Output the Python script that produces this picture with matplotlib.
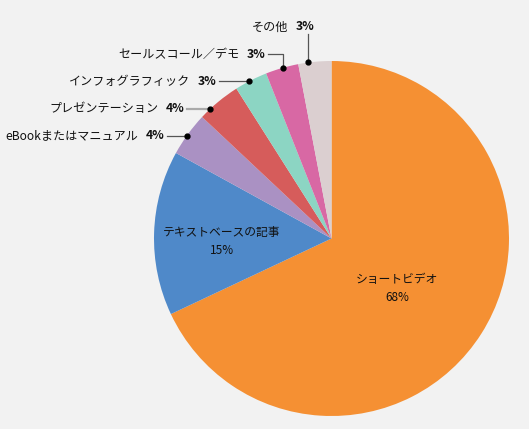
import matplotlib
matplotlib.use('Agg')
import matplotlib.pyplot as plt
import numpy as np

plt.rcParams['font.family'] = ['Noto Sans CJK JP', 'DejaVu Sans']

categories = ['ショートビデオ', 'テキストベースの記事', 'eBookまたはマニュアル',
              'プレゼンテーション', 'インフォグラフィック', 'セールスコール／デモ', 'その他']
values = [68, 15, 4, 4, 3, 3, 3]
pct_labels = ['68%', '15%', '4%', '4%', '3%', '3%', '3%']
colors = ['#F59033', '#4F89C9', '#AA91C3', '#D65C5B', '#8CD5C3', '#D868A4', '#DBCFD0']

W, H = 529, 429
BG = '#F2F2F2'
FS = 8.7
FS_IN = 8.5
TXT = '#111111'
fig = plt.figure(figsize=(W / 100, H / 100), dpi=100, facecolor=BG)
ax = fig.add_axes([0, 0, 1, 1])
cx, cy, R = 331.5, H - 238.5, 177.5
ax.pie(values, colors=colors, startangle=90, counterclock=False, radius=R,
       center=(cx, cy), wedgeprops=dict(linewidth=0))
ax.set_xlim(0, W)
ax.set_ylim(0, H)
ax.set_aspect('equal')
ax.axis('off')

total = float(sum(values))
cum = np.concatenate([[0], np.cumsum(values)[:-1]])


def point(i, frac, rr=R):
    a = np.deg2rad(90 - 360 * (cum[i] + frac * values[i]) / total)
    return cx + rr * np.cos(a), cy + rr * np.sin(a)


# inside labels (pixel positions from top)
inside_pos = {0: (397, 288.5), 1: (222, 241.5)}
for i, (px, py) in inside_pos.items():
    ax.text(px, H - py, categories[i] + '\n' + pct_labels[i], ha='center', va='center',
            fontsize=FS_IN, color=TXT, linespacing=1.5)

fig.canvas.draw()
renderer = fig.canvas.get_renderer()
GAP = 7


def two_part_label(x_right, y, name, pct):
    t = ax.text(x_right, y, pct, ha='right', va='center', fontsize=FS,
                color=TXT, fontweight='bold')
    w = t.get_window_extent(renderer).width
    ax.text(x_right - w - GAP, y, name, ha='right', va='center', fontsize=FS,
            color=TXT)


# outside labels
# (slice index, anchor fraction within slice, kind, text x (right end or center), text y from top)
outside = [
    (2, 0.46, 'h', 164, None),
    (3, 0.26, 'h', 184, None),
    (4, 0.45, 'h', 216, None),
    (5, 0.53, 'vh', 265, 54),
    (6, 0.31, 'v', 283, 27),
]
line_col = '#555555'
for i, f, kind, tx, ty in outside:
    dx, dy = point(i, f)
    ax.plot([dx], [dy], 'o', color='black', markersize=3.5, zorder=5)
    lc = '#AAAAAA' if i == 3 else line_col
    lw = 1.6 if i == 3 else 0.9
    if kind == 'h':
        ax.plot([tx + 3, dx], [dy, dy], color=lc, lw=lw, zorder=4)
        two_part_label(tx, dy, categories[i], pct_labels[i])
    elif kind == 'vh':
        yy = H - ty
        ax.plot([dx, dx, tx + 3], [dy, yy, yy], color=lc, lw=lw, zorder=4)
        two_part_label(tx, yy, categories[i], pct_labels[i])
    else:
        yy = H - ty
        ax.plot([dx, dx], [dy, yy - 7], color=lc, lw=lw, zorder=4)
        tp = ax.text(0, 0, pct_labels[i], fontsize=FS, fontweight='bold')
        wp = tp.get_window_extent(renderer).width
        tn = ax.text(0, 0, categories[i], fontsize=FS)
        wn = tn.get_window_extent(renderer).width
        tp.remove()
        tn.remove()
        total_w = wn + GAP + wp
        two_part_label(tx + total_w / 2, yy, categories[i], pct_labels[i])

fig.savefig('out.png', dpi=100, facecolor=BG)
